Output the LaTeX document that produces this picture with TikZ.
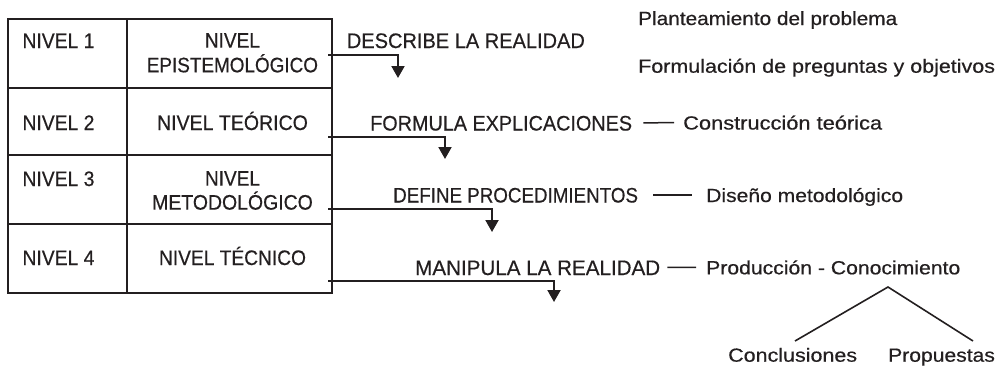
\documentclass[tikz,border=0pt]{standalone}
\usepackage{fontspec}
\setmainfont{Liberation Sans}
\newfontfamily\inkfont{Liberation Sans}[FakeBold=0.5]
\usepackage{graphicx}
\usetikzlibrary{arrows.meta}
\definecolor{ink}{HTML}{231F20}
\newcommand{\hsc}[2]{\scalebox{#1}[1]{#2}}
\begin{document}
\begin{tikzpicture}[x=1pt,y=-1pt,
  txt/.style={anchor=base west, inner sep=0pt, font=\inkfont\fontsize{21}{25}\selectfont, text=ink},
  lc/.style={anchor=base west, inner sep=0pt, font=\inkfont\fontsize{19}{24}\selectfont, text=ink},
  ctr/.style={anchor=center, inner sep=0pt, align=center, text=ink},
  grid/.style={draw=ink, line width=2pt},
  arr/.style={draw=ink, line width=2pt, -{Triangle[width=13pt,length=12pt]}},
  dashln/.style={draw=ink, line width=1.5pt},
  branch/.style={draw=ink, line width=1.6pt}]
\useasboundingbox (0,0) rectangle (999,365);

% table grid
\draw[grid] (7.5,19) rectangle (332,293);
\draw[grid] (127,19) -- (127,293);
\draw[grid] (7.5,88) -- (332,88);
\draw[grid] (7.5,155) -- (332,155);
\draw[grid] (7.5,223.5) -- (332,223.5);

% column 1
\node[txt] (n1) at (22.3,48) {\hsc{0.92}{NIVEL 1}};
\node[txt] (n2) at (22.3,130) {\hsc{0.92}{NIVEL 2}};
\node[txt] (n3) at (22.3,186) {\hsc{0.92}{NIVEL 3}};
\node[txt] (n4) at (22.3,265) {\hsc{0.92}{NIVEL 4}};

% column 2
\node[ctr, font=\inkfont\fontsize{21}{24.7}\selectfont] (e1) at (232.4,52.85) {\hsc{0.906}{NIVEL}\\\hsc{0.90}{EPISTEMOLÓGICO}};
\node[txt, anchor=base] (e2) at (232.5,130) {\hsc{0.93}{NIVEL TEÓRICO}};
\node[ctr, font=\inkfont\fontsize{21}{24}\selectfont] (e3) at (232.5,190.5) {\hsc{0.906}{NIVEL}\\\hsc{0.926}{METODOLÓGICO}};
\node[txt, anchor=base] (e4) at (232.5,265) {\hsc{0.913}{NIVEL TÉCNICO}};

% arrows
\coordinate (s1) at (328,55);  \coordinate (d1) at (398,78);
\coordinate (s2) at (328,137); \coordinate (d2) at (445,159);
\coordinate (s3) at (328,209); \coordinate (d3) at (492,232);
\coordinate (s4) at (328,281); \coordinate (d4) at (554,302);
\draw[arr] (s1) -| (d1);
\draw[arr] (s2) -| (d2);
\draw[arr] (s3) -| (d3);
\draw[arr] (s4) -| (d4);

% labels
\node[txt] (l1) at (346.7,48) {\hsc{0.953}{DESCRIBE LA REALIDAD}};
\node[txt] (l2) at (370,130.5) {\hsc{0.943}{FORMULA EXPLICACIONES}};
\node[txt] (l3) at (393,202.5) {\hsc{0.894}{DEFINE PROCEDIMIENTOS}};
\node[txt] (l4) at (415,275) {\hsc{0.981}{MANIPULA LA REALIDAD}};

% right column texts
\node[lc] (p1) at (638,25) {\hsc{1.095}{Planteamiento del problema}};
\node[lc] (p2) at (638,72.7) {\hsc{1.13}{Formulación de preguntas y objetivos}};
\node[lc] (t2) at (683,129.5) {\hsc{1.149}{Construcción teórica}};
\node[lc] (t3) at (706,202) {\hsc{1.11}{Diseño metodológico}};
\node[lc] (t4) at (706,274.3) {\hsc{1.114}{Producción - Conocimiento}};
\node[lc] (c1) at (728,361.7) {\hsc{1.13}{Conclusiones}};
\node[lc] (c2) at (888,361.7) {\hsc{1.11}{Propuestas}};

% dashes
\draw[dashln, shorten <=11pt, shorten >=9pt] ([yshift=7.5pt]l2.base east) -- ([yshift=7pt]t2.base west);
\draw[dashln, shorten <=15pt, shorten >=14pt] ([yshift=7.5pt]l3.base east) -- ([yshift=7pt]t3.base west);
\draw[dashln, shorten <=7pt, shorten >=10pt] ([yshift=7.5pt]l4.base east) -- ([yshift=7pt]t4.base west);

% branches
\coordinate (apex) at (888,287);
\coordinate (bl) at (795,341);
\coordinate (br) at (973,341);
\draw[branch] (bl) -- (apex) -- (br);
\end{tikzpicture}
\end{document}
